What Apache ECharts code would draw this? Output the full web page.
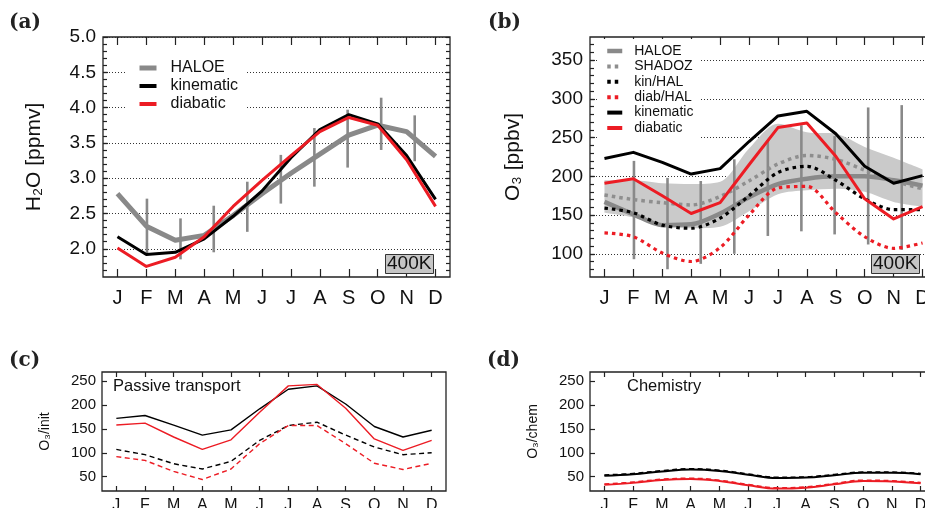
<!DOCTYPE html>
<html><head><meta charset="utf-8">
<script src="https://cdn.jsdelivr.net/npm/echarts@6/dist/echarts.min.js"></script>
<style>html,body{margin:0;padding:0;background:#fff}#c{width:925px;height:508px}</style>
</head><body><div id="c"></div>
<script>
// ---------- data ----------
const months = ['J','F','M','A','M','J','J','A','S','O','N','D'];
const monthIdx = months.map((_, i) => i + 1);
const errX = [2.02, 3.18, 4.33, 5.49, 6.65, 7.81, 8.96, 10.12, 11.28];

// (a) H2O
const h2oTicks = [2.0, 2.5, 3.0, 3.5, 4.0, 4.5, 5.0];
const h2oHaloe = [2.78, 2.32, 2.12, 2.19, 2.47, 2.78, 3.07, 3.34, 3.61, 3.75, 3.66, 3.31];
const h2oKin   = [2.17, 1.92, 1.95, 2.14, 2.46, 2.82, 3.29, 3.69, 3.90, 3.77, 3.32, 2.70];
const h2oDiab  = [2.01, 1.75, 1.88, 2.17, 2.60, 2.97, 3.32, 3.66, 3.86, 3.75, 3.26, 2.60];
const h2oErrHi = [2.71, 2.43, 2.61, 2.95, 3.33, 3.71, 3.97, 4.14, 3.89];
const h2oErrLo = [1.94, 1.85, 1.95, 2.24, 2.64, 2.88, 3.15, 3.40, 3.24];

// (b) O3
const o3Ticks   = [100, 150, 200, 250, 300, 350];
const o3Haloe   = [167, 151, 137, 138, 152, 173, 190, 197, 200, 200, 195, 188];
const o3Shadoz  = [176, 170, 166, 163, 174, 194, 216, 227, 222, 208, 194, 184];
const o3KinHal  = [159, 153, 137, 133, 146, 175, 205, 213, 195, 171, 157, 157];
const o3DiabHal = [127, 122, 101, 90, 108, 150, 185, 187, 153, 122, 107, 114];
const o3Kin     = [223, 231, 218, 203, 210, 245, 278, 284, 255, 213, 191, 201];
const o3Diab    = [191, 197, 175, 152, 166, 215, 263, 269, 226, 171, 145, 161];
const o3BandHi  = [195, 195, 191, 190, 193, 236, 268, 257, 255, 238, 224, 209];
const o3BandLo  = [153, 147, 136, 133, 135, 155, 177, 182, 184, 180, 167, 161];
const o3ErrHi   = [220, 198, 194, 222, 247, 266, 252, 289, 292];
const o3ErrLo   = [93, 80, 87, 100, 123, 129, 125, 112, 105];

// (c) passive transport
const smallTicks  = [50, 100, 150, 200, 250];
const passKin     = [172, 178, 158, 137, 148, 192, 233, 240, 202, 155, 133, 147];
const passDiab    = [158, 162, 133, 107, 127, 185, 240, 243, 193, 129, 105, 126];
const passKinHal  = [107, 96, 77, 66, 82, 126, 157, 164, 137, 112, 96, 100];
const passDiabHal = [92, 84, 61, 44, 66, 119, 157, 157, 119, 78, 65, 78];

// (d) chemistry
const chemKin     = [52, 55, 61, 65, 62, 54, 47, 48, 53, 58, 58, 55];
const chemKinHal  = [53.5, 56.5, 62.5, 66.5, 63.5, 55.5, 48.5, 49.5, 54.5, 59.5, 59.5, 56.5];
const chemDiab    = [33, 37, 43, 45, 41, 32, 25, 27, 34, 41, 40, 36];
const chemDiabHal = [34.5, 38.5, 44.5, 46.5, 42.5, 33.5, 26.5, 28.5, 35.5, 42.5, 41.5, 37.5];

// ---------- styling ----------
const FONT = 'Liberation Sans';
const RED = '#ec1c24', BLACK = '#000000', GRAY = '#898989', BAND = '#cacaca';
const tickStyle = {color: '#222', width: 1.2};

const grids = [], xAxes = [], yAxes = [], series = [];

function steps(min, max, step) {
  const out = [];
  for (let k = 1; min + k * step < max - 1e-9; k++) out.push(+(min + k * step).toFixed(4));
  return out;
}

function addPanel(p) {
  const gi = grids.length;
  grids.push({left: p.left, top: p.top, width: p.width, height: p.height, show: true,
    borderColor: '#222', borderWidth: 1.3, backgroundColor: 'transparent',
    containLabel: false, outerBoundsMode: 'none'});
  const xi = xAxes.length;
  xAxes.push({gridIndex: gi, type: 'value', min: 0.5, max: 12.5, position: 'bottom',
    axisLine: {show: false}, splitLine: {show: false},
    axisTick: {inside: true, length: p.xTickLen, customValues: monthIdx, lineStyle: tickStyle},
    axisLabel: {customValues: monthIdx, formatter: v => months[Math.round(v) - 1],
      fontSize: p.xFont, fontFamily: FONT, color: '#111', margin: p.xMargin}});
  xAxes.push({gridIndex: gi, type: 'value', min: 0.5, max: 12.5, position: 'top',
    axisLine: {show: false}, splitLine: {show: false}, axisLabel: {show: false},
    axisTick: {inside: true, length: p.xTickLen, customValues: monthIdx, lineStyle: tickStyle}});
  let ci = -1;
  if (p.cat) {
    ci = xAxes.length;
    xAxes.push({gridIndex: gi, type: 'category', data: months, boundaryGap: true, show: false});
  }
  const yi = yAxes.length;
  yAxes.push({gridIndex: gi, type: 'value', min: p.ymin, max: p.ymax, position: 'left',
    name: p.yName, nameLocation: 'middle', nameGap: p.nameGap, nameRotate: 90, nameMoveOverlap: false,
    nameTextStyle: {fontSize: p.nameFont, fontFamily: FONT, color: '#111'},
    axisLine: {show: false},
    axisTick: {inside: true, length: 5, customValues: p.yMajor, lineStyle: tickStyle},
    axisLabel: {customValues: p.yMajor, formatter: p.yFmt, fontSize: p.yFont, fontFamily: FONT,
      color: '#111', margin: p.yMargin},
    splitLine: {show: !!p.gridLines, lineStyle: {type: [1, 2], color: '#333', width: 1}}});
  if (p.minorStep) {
    const minor = steps(p.ymin, p.ymax, p.minorStep);
    yAxes.push({gridIndex: gi, type: 'value', min: p.ymin, max: p.ymax, position: 'left',
      axisLine: {show: false}, axisLabel: {show: false}, splitLine: {show: false},
      axisTick: {inside: true, length: 4, customValues: minor, lineStyle: tickStyle}});
    if (p.rightTicks) {
      yAxes.push({gridIndex: gi, type: 'value', min: p.ymin, max: p.ymax, position: 'right',
        axisLine: {show: false}, axisLabel: {show: false}, splitLine: {show: false},
        axisTick: {inside: true, length: 4, customValues: minor.concat(p.yMajor), lineStyle: tickStyle}});
    }
  }
  return {xi, yi, ci};
}

const pts = arr => monthIdx.map((m, i) => [m, arr[i]]);
function lineS(ax, name, arr, color, width, dash, smooth, z) {
  return {type: 'line', name, xAxisIndex: ax.xi, yAxisIndex: ax.yi, data: pts(arr),
    symbol: 'none', smooth: smooth || false, z: z || 3, silent: true, animation: false,
    lineStyle: {color, width, type: dash || 'solid', cap: 'butt', join: 'round'},
    itemStyle: {color}};
}
function errS(ax, lo, hi) {
  return {type: 'custom', xAxisIndex: ax.xi, yAxisIndex: ax.yi, silent: true, animation: false, z: 2,
    data: errX.map((x, i) => [x, lo[i], hi[i]]), encode: {x: 0, y: [1, 2]},
    renderItem: (params, api) => {
      const a = api.coord([api.value(0), api.value(1)]);
      const b = api.coord([api.value(0), api.value(2)]);
      return {type: 'line', shape: {x1: a[0], y1: a[1], x2: b[0], y2: b[1]},
        style: {stroke: GRAY, lineWidth: 2.6}};
    }};
}

// (a)
const A = addPanel({left: 103, top: 37, width: 347, height: 240, ymin: 1.6, ymax: 5.0,
  yMajor: h2oTicks, yFmt: v => v.toFixed(1), minorStep: 0.1, rightTicks: true, gridLines: true,
  yName: 'H₂O [ppmv]', nameGap: 58, nameFont: 21, yFont: 19, yMargin: 7,
  xFont: 20, xMargin: 11, xTickLen: 8});
series.push(errS(A, h2oErrLo, h2oErrHi));
series.push(lineS(A, 'HALOE', h2oHaloe, GRAY, 5, null, false, 3));
series.push(lineS(A, 'kinematic', h2oKin, BLACK, 3, null, false, 4));
series.push(lineS(A, 'diabatic', h2oDiab, RED, 3, null, false, 5));

// (b)
const B = addPanel({left: 590, top: 37, width: 347, height: 240, ymin: 70, ymax: 380,
  yMajor: o3Ticks, yFmt: v => String(v), minorStep: 10, rightTicks: false, gridLines: true, cat: true,
  yName: 'O₃ [ppbv]', nameGap: 66, nameFont: 21, yFont: 19, yMargin: 7,
  xFont: 20, xMargin: 11, xTickLen: 8});
series.push({type: 'line', xAxisIndex: B.ci, yAxisIndex: B.yi, data: o3BandLo, stack: 'band',
  symbol: 'none', smooth: 0.3, silent: true, animation: false, z: 1, lineStyle: {opacity: 0}});
series.push({type: 'line', xAxisIndex: B.ci, yAxisIndex: B.yi,
  data: o3BandHi.map((v, i) => v - o3BandLo[i]), stack: 'band',
  symbol: 'none', smooth: 0.3, silent: true, animation: false, z: 1, lineStyle: {opacity: 0},
  areaStyle: {color: BAND, opacity: 1}});
series.push(errS(B, o3ErrLo, o3ErrHi));
series.push(lineS(B, 'HALOE ', o3Haloe, GRAY, 4.5, null, 0.3, 3));
series.push(lineS(B, 'SHADOZ', o3Shadoz, '#8e8e8e', 3.5, [3.5, 4], 0.3, 3));
series.push(lineS(B, 'kin/HAL', o3KinHal, BLACK, 3.2, [3.5, 4], 0.3, 4));
series.push(lineS(B, 'diab/HAL', o3DiabHal, RED, 3.2, [3.5, 4], 0.3, 4));
series.push(lineS(B, 'kinematic ', o3Kin, BLACK, 3, null, false, 5));
series.push(lineS(B, 'diabatic ', o3Diab, RED, 3, null, false, 6));

// (c)
const C = addPanel({left: 102, top: 372, width: 344, height: 119, ymin: 20, ymax: 269,
  yMajor: smallTicks, yFmt: v => String(v), gridLines: false,
  yName: 'O₃/init', nameGap: 50, nameFont: 14, yFont: 15, yMargin: 6,
  xFont: 16, xMargin: 7, xTickLen: 5});
series.push(lineS(C, 'c1', passKinHal, BLACK, 1.4, [5, 3.5], false, 3));
series.push(lineS(C, 'c2', passDiabHal, RED, 1.4, [5, 3.5], false, 3));
series.push(lineS(C, 'c3', passKin, BLACK, 1.4, null, false, 4));
series.push(lineS(C, 'c4', passDiab, RED, 1.4, null, false, 5));

// (d)
const D = addPanel({left: 590, top: 372, width: 345, height: 119, ymin: 20, ymax: 269,
  yMajor: smallTicks, yFmt: v => String(v), gridLines: false,
  yName: 'O₃/chem', nameGap: 50, nameFont: 14, yFont: 15, yMargin: 6,
  xFont: 16, xMargin: 7, xTickLen: 5});
series.push(lineS(D, 'd3', chemKin, BLACK, 2, null, 0.4, 3));
series.push(lineS(D, 'd1', chemKinHal, BLACK, 1.6, [5, 3.5], 0.4, 4));
series.push(lineS(D, 'd4', chemDiab, RED, 2, null, 0.4, 3));
series.push(lineS(D, 'd2', chemDiabHal, RED, 1.6, [5, 3.5], 0.4, 4));

const panelLbl = {fontFamily: 'DejaVu Serif', fontWeight: 'bold', fontSize: 20, color: '#222'};
const boxLbl = {fontFamily: FONT, fontWeight: 'normal', fontSize: 19, color: '#111', lineHeight: 20};
const txtLbl = {fontFamily: FONT, fontWeight: 'normal', fontSize: 16.5, color: '#111'};
const titles = [
  {text: '(a)', left: 9, top: 13, padding: 0, textStyle: panelLbl},
  {text: '(b)', left: 488, top: 13, padding: 0, textStyle: panelLbl},
  {text: '(c)', left: 9, top: 351, padding: 0, textStyle: panelLbl},
  {text: '(d)', left: 487, top: 351, padding: 0, textStyle: panelLbl},
  {text: '400K', left: 385, top: 254, padding: [0, 2], backgroundColor: '#c6c6c6', borderColor: '#333', borderWidth: 1, textStyle: boxLbl},
  {text: '400K', left: 871, top: 254, padding: [0, 2], backgroundColor: '#c6c6c6', borderColor: '#333', borderWidth: 1, textStyle: boxLbl},
  {text: 'Passive transport', left: 113, top: 378, padding: 0, textStyle: txtLbl},
  {text: 'Chemistry', left: 627, top: 378, padding: 0, textStyle: txtLbl}
];

const legItem = (name, width) => ({name, lineStyle: {width}});
const legends = [
  {data: [legItem('HALOE', 5), legItem('kinematic', 4), legItem('diabatic', 4)],
   orient: 'vertical', left: 127, top: 54,
   padding: [6, 8, 6, 10], backgroundColor: '#fff', itemWidth: 17, itemHeight: 14, itemGap: 2,
   selectedMode: false, itemStyle: {opacity: 0}, lineStyle: {type: 'inherit'},
   textStyle: {fontSize: 16, fontFamily: FONT, color: '#111', padding: [0, 0, 0, 9]}},
  {data: [legItem('HALOE ', 4.5), legItem('SHADOZ', 4), legItem('kin/HAL', 4), legItem('diab/HAL', 4),
          legItem('kinematic ', 4), legItem('diabatic ', 4)], orient: 'vertical',
   left: 598, top: 39, padding: [5, 6, 5, 7], backgroundColor: '#fff', itemWidth: 15, itemHeight: 12, itemGap: 1.4,
   selectedMode: false, formatter: n => n.trim(), itemStyle: {opacity: 0}, lineStyle: {type: 'inherit'},
   textStyle: {fontSize: 14, fontFamily: FONT, color: '#111', padding: [0, 0, 0, 7]}}
];

const chart = echarts.init(document.getElementById('c'), null, {renderer: 'canvas'});
chart.setOption({
  animation: false, backgroundColor: '#fff',
  title: titles, legend: legends, grid: grids, xAxis: xAxes, yAxis: yAxes, series
});
</script></body></html>
